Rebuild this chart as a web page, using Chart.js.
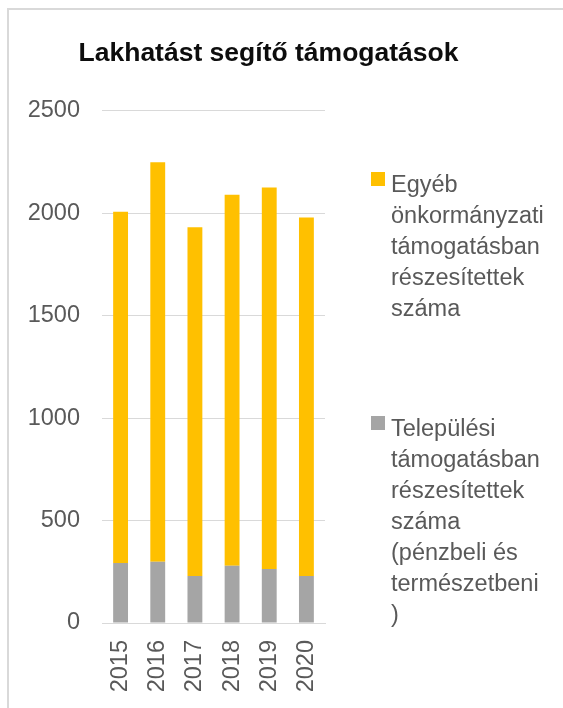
<!DOCTYPE html>
<html><head><meta charset="utf-8">
<script src="https://cdn.jsdelivr.net/npm/chart.js@4"></script>
<style>
html,body{margin:0;padding:0;background:#fff;}
#wrap{position:relative;width:563px;height:708px;overflow:hidden;}
#frame{position:absolute;left:7px;top:8px;right:-10px;bottom:-10px;border-top:2px solid #d9d9d9;border-left:2px solid #d9d9d9;pointer-events:none;}
canvas{position:absolute;left:0;top:0;}
</style></head><body>
<div id="wrap"><canvas id="c" width="563" height="708"></canvas><div id="frame"></div></div>
<script>
// ---- data ----
const years = ['2015', '2016', '2017', '2018', '2019', '2020'];
const telepulesi = [293, 299, 229, 280, 264, 229];
const egyeb = [1714, 1950, 1703, 1810, 1862, 1750];
const yMin = 0, yMax = 2500, yStep = 500;
const titleText = 'Lakhatást segítő támogatások';
const egyebLines = ['Egyéb', 'önkormányzati', 'támogatásban', 'részesítettek', 'száma'];
const telepulesiLines = ['Települési', 'támogatásban', 'részesítettek', 'száma', '(pénzbeli és', 'természetbeni', ')'];

const FONT = "'Liberation Sans', Arial, sans-serif";
Chart.defaults.font.family = FONT;

const sideLegend = {
  id: 'sideLegend',
  afterDraw(chart, args, opts) {
    const ctx = chart.ctx, ca = chart.chartArea;
    ctx.save();
    ctx.font = opts.fontSize + 'px ' + FONT;
    ctx.textBaseline = 'alphabetic';
    ctx.textAlign = 'left';
    opts.items.forEach(item => {
      const ds = chart.data.datasets[item.dataset];
      ctx.fillStyle = ds.backgroundColor;
      ctx.fillRect(ca.right + opts.boxOffset, item.y - 20, 14, 14);
      ctx.fillStyle = opts.color;
      item.lines.forEach((ln, i) => ctx.fillText(ln, ca.right + opts.textOffset, item.y + i * opts.lineHeight));
    });
    ctx.restore();
  }
};

new Chart(document.getElementById('c'), {
  type: 'bar',
  data: {
    labels: years,
    datasets: [
      { label: telepulesiLines.join(' '), data: telepulesi, backgroundColor: '#A5A5A5', barPercentage: 0.4, categoryPercentage: 1 },
      { label: egyebLines.join(' '), data: egyeb, backgroundColor: '#FFC000', barPercentage: 0.4, categoryPercentage: 1 }
    ]
  },
  options: {
    responsive: false,
    animation: false,
    layout: { padding: { left: 0, right: 26, top: 0, bottom: 0 } },
    plugins: {
      legend: { display: false },
      tooltip: { enabled: false },
      title: {
        display: true,
        text: titleText,
        color: '#0d0d0d',
        font: { size: 26.5, weight: 'bold', family: FONT },
        padding: { top: 38, bottom: 41 }
      },
      sideLegend: {
        fontSize: 23.5,
        color: '#595959',
        lineHeight: 31,
        boxOffset: 46,
        textOffset: 66,
        items: [
          { dataset: 1, y: 192, lines: egyebLines },
          { dataset: 0, y: 436, lines: telepulesiLines }
        ]
      }
    },
    scales: {
      x: {
        stacked: true,
        grid: { display: false },
        border: { display: true, color: '#d9d9d9', width: 1 },
        ticks: { color: '#595959', font: { size: 23.5 }, minRotation: 90, maxRotation: 90, autoSkip: false, padding: 9 },
        afterFit: s => { s.height = 85; }
      },
      y: {
        stacked: true,
        min: yMin, max: yMax,
        grid: { color: '#d9d9d9', lineWidth: 1, drawTicks: false },
        border: { display: false },
        ticks: { stepSize: yStep, color: '#595959', font: { size: 23.5 }, padding: 22, callback: v => String(v) },
        afterFit: s => { s.width = 102; }
      },
      legendSpace: {
        type: 'linear',
        position: 'right',
        grid: { display: false },
        border: { display: false },
        ticks: { display: false },
        afterFit: s => { s.width = 212; }
      }
    }
  },
  plugins: [sideLegend]
});
</script>
</body></html>
